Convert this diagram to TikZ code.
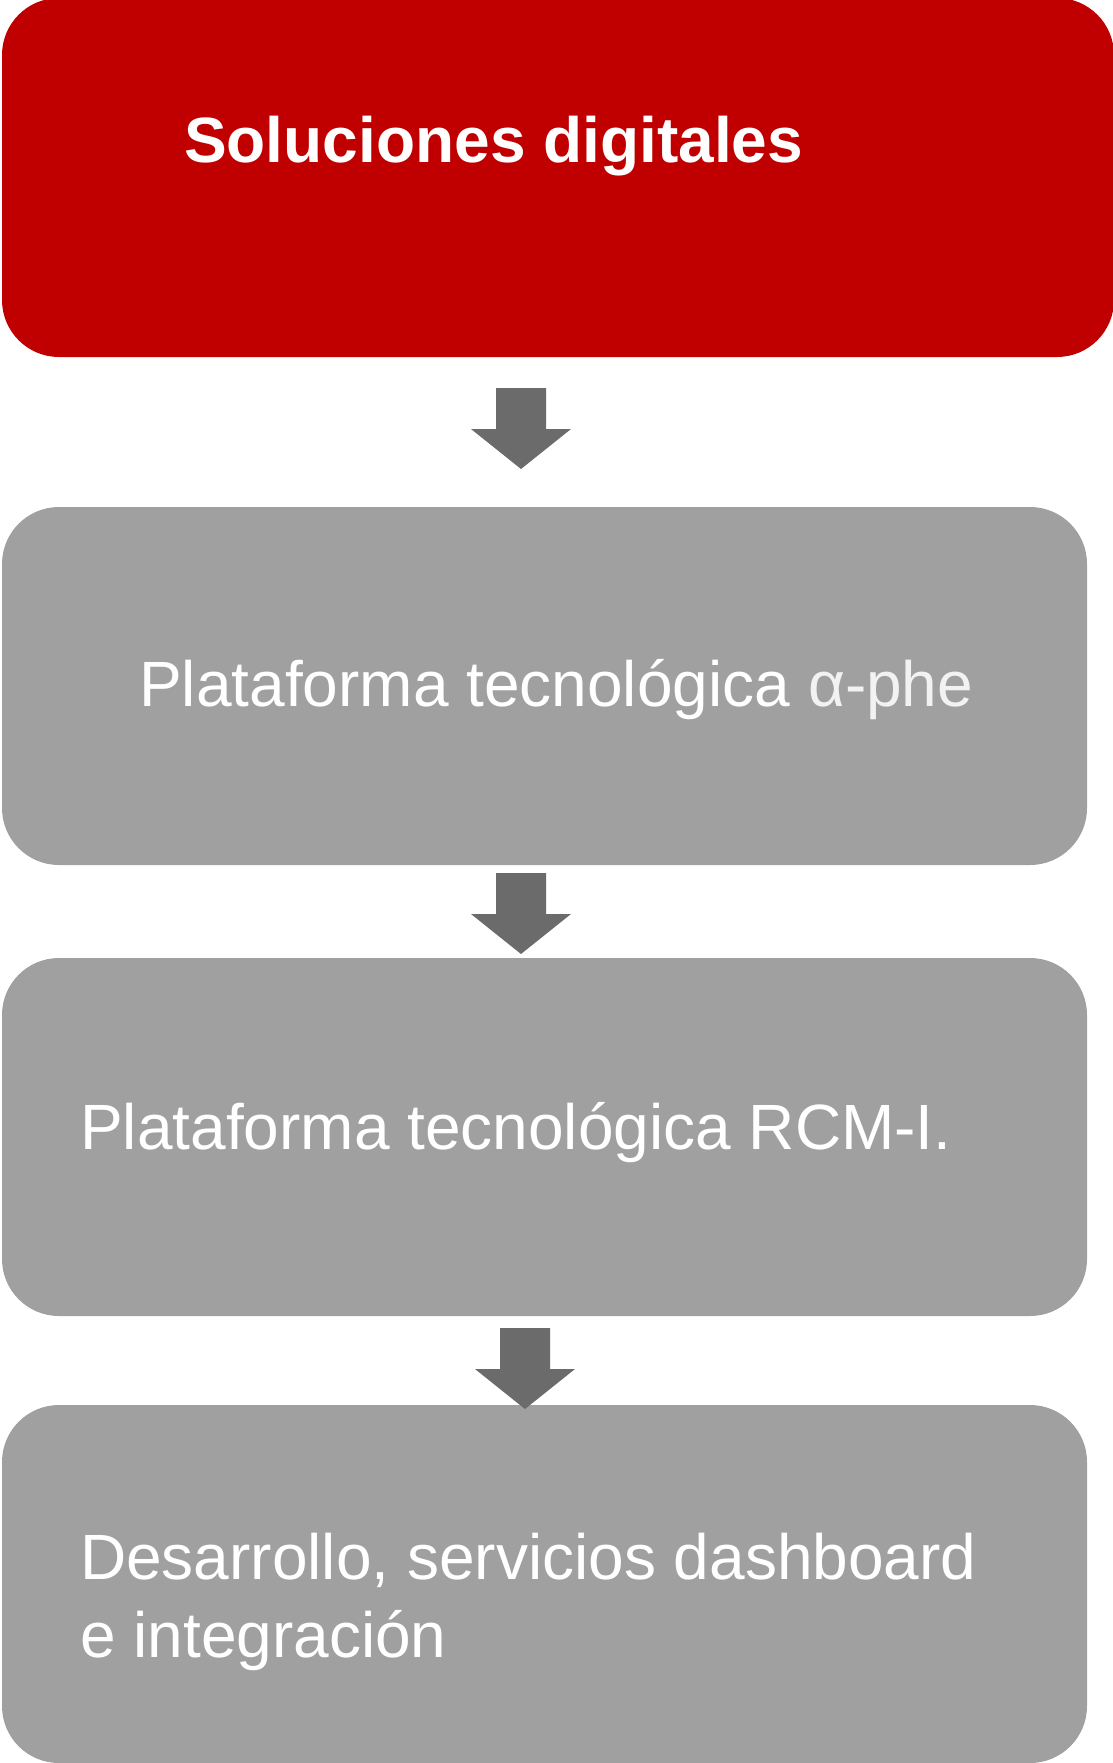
\documentclass[tikz,border=0pt]{standalone}
\usepackage{fontspec}
\setmainfont{Liberation Sans}
\definecolor{boxred}{HTML}{C00000}
\definecolor{boxgray}{HTML}{A0A0A0}
\definecolor{arrowgray}{HTML}{6B6B6B}
\definecolor{softwhite}{HTML}{F2F2F2}
\begin{document}
\begin{tikzpicture}[x=1pt,y=-1pt,
  stepbox/.style={rounded corners=57pt,draw=none},
  lbl/.style={anchor=base west,inner sep=0pt,text=white,font=\fontsize{64}{78}\selectfont}]
\useasboundingbox (0,0) rectangle (1112,1763);
% boxes
\fill[boxred,stepbox] (2,-2) rectangle (1114,357);
\fill[boxgray,stepbox] (2,507) rectangle (1087,865);
\fill[boxgray,stepbox] (2,958) rectangle (1087,1316);
\fill[boxgray,stepbox] (2,1405) rectangle (1087,1763);
% block arrows
\newcommand{\blockarrow}[3]{% x center, top y
  \fill[arrowgray] (#1-25,#2) -- (#1+25,#2) -- (#1+25,#2+41) -- (#1+50,#2+41)
    -- (#1,#2+81) -- (#1-50,#2+41) -- (#1-25,#2+41) -- cycle;}
\blockarrow{521}{388}{}
\blockarrow{521}{873}{}
\blockarrow{525}{1328}{}
% texts
\node[lbl,font=\bfseries\fontsize{64}{78}\selectfont] (t1) at (184,163) {Soluciones digitales};
\node[lbl] (t2) at (139,706) {Plataforma tecnológica \textcolor{softwhite}{α-phe}};
\node[lbl] (t3) at (80,1149) {Plataforma tecnológica RCM-I.};
\node[lbl] (t4) at (80,1579) {Desarrollo, servicios dashboard};
\node[lbl] (t5) at (80,1657) {e integración};
\end{tikzpicture}
\end{document}
